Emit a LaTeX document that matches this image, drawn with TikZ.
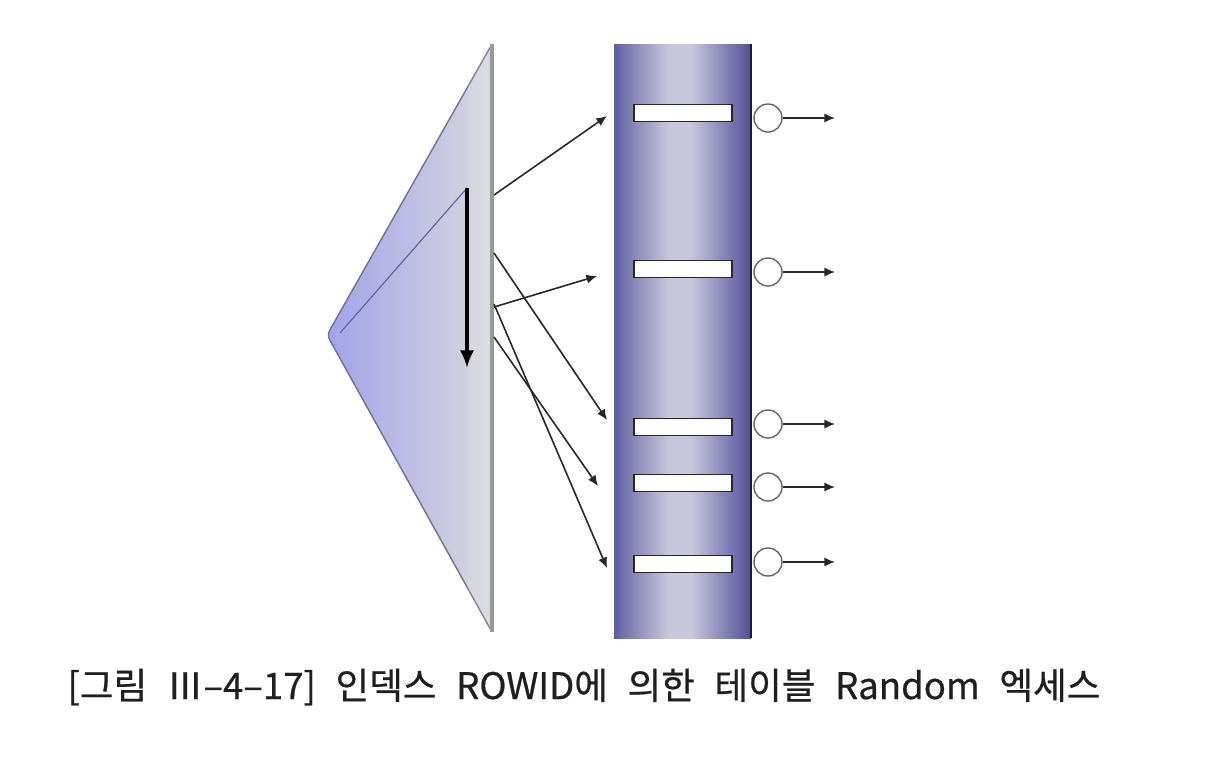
\documentclass[tikz,border=0pt]{standalone}
\usepackage{fontspec}
\setmainfont{Noto Sans CJK KR}
\newfontfamily\captionfont[WordSpace=2.4, FakeBold=0.6]{Noto Sans CJK KR}
\usetikzlibrary{arrows.meta}

\definecolor{cylEdge}{HTML}{5E5E9E}
\definecolor{cylMid}{HTML}{8686B8}
\definecolor{cylLight}{HTML}{C8C8DC}
\definecolor{cylDeep}{HTML}{505090}
\definecolor{cylLine}{HTML}{1C1C3C}
\definecolor{triLeft}{HTML}{A2A2EA}
\definecolor{triRight}{HTML}{D8D8DE}

% the path's box spans 25bp--75bp of the shading
\pgfdeclarehorizontalshading{cylinder}{100bp}{color(0bp)=(cylEdge); color(25bp)=(cylEdge); color(32bp)=(cylMid); color(45bp)=(cylLight); color(53bp)=(cylLight); color(65bp)=(cylMid); color(75bp)=(cylDeep); color(100bp)=(cylDeep)}

\begin{document}
\begin{tikzpicture}[x=0.01cm, y=-0.01cm,
    slotbox/.style={draw=black!85, line width=0.5pt, fill=white, minimum width=0.98cm, minimum height=0.17cm, inner sep=0pt},
    ring/.style={circle, draw=black!60, line width=0.4pt, fill=white, minimum size=0.28cm, inner sep=0pt},
    flow/.style={draw=black!85, line width=0.45pt, -{Latex[length=3pt, width=2.6pt]}},
    caption/.style={font=\captionfont\fontsize{10.4pt}{12pt}\selectfont, text=black!88}]

    \useasboundingbox (0,0) rectangle (1226,756);
    \fill[white] (0,0) rectangle (1226,756);

    %% Index tree and table

    % Index
    \shade[left color=triLeft, right color=triRight, draw=blue!15!black!55, line width=0.4pt, rounded corners=1.5pt]
        (492,44) -- (327,335) -- (492,632) -- cycle;
    \fill[white, opacity=0.12] (468,44) rectangle (490,632);
    \draw[black!40, line width=1pt] (492,44) -- (492,632);
    \coordinate (leaf) at (340,333);
    \coordinate (turn) at (467,188);
    \coordinate (scan) at (467,368);
    \draw[blue!40!black!60, line width=0.35pt] (leaf) -- (turn);
    \draw[black, line width=0.9pt, -{Latex[length=5pt, width=4pt]}] (turn) -- (scan);

    % Table
    \shade[shading=cylinder] (614,44) rectangle (751,638);
    \draw[cylLine, line width=0.7pt] (751,44) -- (751,638);

    % Rows
    \foreach \i/\sy/\ry in {1/113/118, 2/269/272, 3/427/424, 4/483/487, 5/564/562} {
        \node[slotbox] (slot\i) at (683,\sy) {};
        \node[ring] (ring\i) at (768,\ry) {};
        \coordinate (out\i) at (835,\ry);
        \draw[flow] (ring\i.east) -- (out\i);
    }

    % ROWID lookups
    \foreach \i/\ey/\tx/\ty in {1/195/607/116, 2/307/597/276, 3/253/607/420, 4/337/598/486, 5/304/607/568} {
        \coordinate (from\i) at (494,\ey);
        \coordinate (to\i) at (\tx,\ty);
        \draw[flow] (from\i) -- (to\i);
    }

    % Caption
    \node[caption] (title) at (584,687) {[그림 Ⅲ–4–17] 인덱스 ROWID에 의한 테이블 Random 엑세스};

\end{tikzpicture}
\end{document}
